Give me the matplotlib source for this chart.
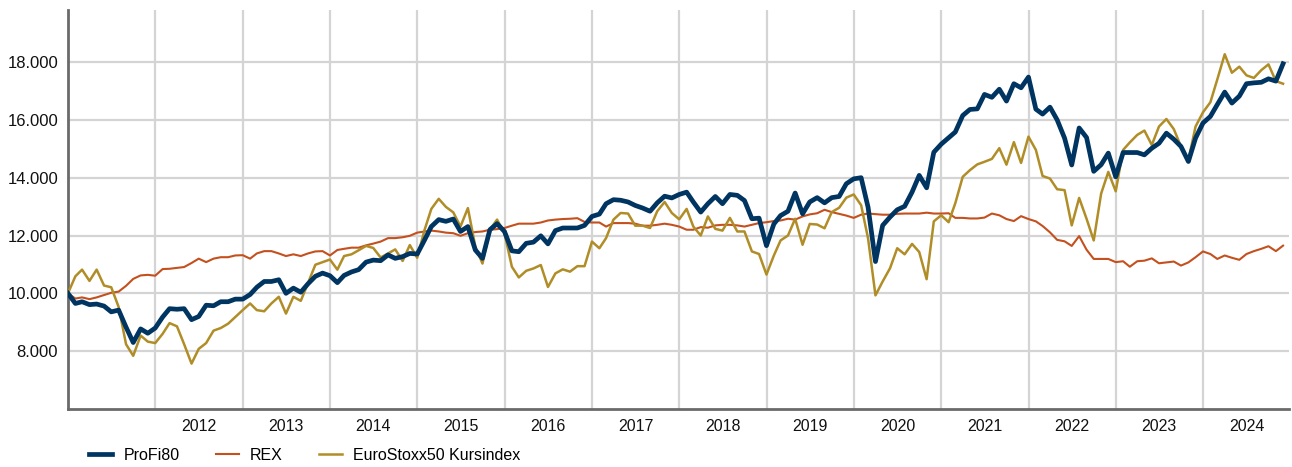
import matplotlib
matplotlib.use("Agg")
import matplotlib.pyplot as plt
import matplotlib.ticker as mticker
import pandas as pd

plt.rcParams['font.family'] = ['Liberation Sans', 'DejaVu Sans']

# Monatsendwerte, Start Ende Dez 2010 = 10.000
datum = pd.date_range('2010-12-31', periods=168, freq='ME')

profi80 = [
    10000, 9650, 9710, 9610, 9630, 9560, 9360, 9420, 8830, 8300, 8770, 8620,
    8800, 9180, 9470, 9450, 9470, 9090, 9200, 9590, 9570, 9710, 9710, 9800,
    9800, 9960, 10210, 10410, 10410, 10470, 10000, 10180, 10040, 10330, 10590, 10700,
    10610, 10370, 10620, 10740, 10820, 11080, 11150, 11130, 11330, 11210, 11270, 11380,
    11360, 11850, 12310, 12550, 12490, 12570, 12140, 12310, 11500, 11210, 12200, 12410,
    12140, 11470, 11440, 11730, 11770, 11990, 11710, 12170, 12260, 12260, 12260, 12350,
    12660, 12740, 13100, 13240, 13220, 13160, 13040, 12950, 12840, 13130, 13360, 13300,
    13420, 13500, 13160, 12810, 13100, 13350, 13100, 13420, 13390, 13210, 12580, 12600,
    11650, 12400, 12690, 12840, 13470, 12750, 13160, 13310, 13130, 13310, 13350, 13790,
    13960, 14000, 12980, 11100, 12350, 12640, 12890, 13010, 13500, 14080, 13650, 14880,
    15160, 15380, 15580, 16150, 16360, 16380, 16880, 16780, 17060, 16650, 17250, 17110,
    17480, 16370, 16200, 16440, 16000, 15370, 14440, 15720, 15390, 14220, 14450, 14850,
    14030, 14870, 14870, 14870, 14790, 15020, 15190, 15540, 15330, 15080, 14560, 15370,
    15890, 16120, 16530, 16960, 16580, 16820, 17250, 17280, 17300, 17420, 17340, 17940,
]

rex = [
    10000, 9820, 9860, 9800, 9860, 9940, 10020, 10060, 10260, 10500, 10620, 10640,
    10610, 10840, 10850, 10880, 10910, 11050, 11200, 11080, 11200, 11250, 11250, 11310,
    11320, 11200, 11380, 11460, 11460, 11380, 11290, 11350, 11290, 11380, 11450, 11460,
    11310, 11500, 11540, 11580, 11580, 11660, 11720, 11790, 11910, 11910, 11940, 11990,
    12100, 12140, 12170, 12140, 12100, 12080, 11990, 12080, 12120, 12140, 12200, 12220,
    12260, 12340, 12410, 12410, 12410, 12450, 12520, 12550, 12570, 12580, 12600, 12470,
    12450, 12450, 12310, 12430, 12430, 12430, 12410, 12340, 12340, 12370, 12410, 12370,
    12310, 12200, 12200, 12290, 12270, 12350, 12370, 12370, 12350, 12310, 12370, 12430,
    12460, 12500, 12520, 12580, 12550, 12660, 12730, 12770, 12890, 12810, 12750, 12690,
    12610, 12720, 12760, 12740, 12720, 12720, 12750, 12760, 12760, 12760, 12790, 12760,
    12760, 12770, 12610, 12610, 12590, 12590, 12620, 12760, 12700, 12570, 12500, 12670,
    12570, 12490, 12330, 12110, 11850, 11800, 11640, 11980, 11510, 11190, 11190, 11190,
    11080, 11110, 10920, 11110, 11130, 11210, 11040, 11070, 11100, 10960, 11070, 11250,
    11450, 11360, 11190, 11310, 11230, 11160, 11360, 11460, 11540, 11630, 11460, 11650,
]

eurostoxx = [
    10000, 10590, 10820, 10430, 10820, 10270, 10210, 9530, 8240, 7840, 8540, 8330,
    8280, 8600, 8970, 8860, 8240, 7570, 8080, 8280, 8710, 8800, 8950, 9180,
    9420, 9650, 9420, 9380, 9650, 9880, 9300, 9880, 9740, 10350, 10990, 11080,
    11170, 10820, 11290, 11350, 11490, 11640, 11570, 11240, 11380, 11520, 11120, 11670,
    11230, 12200, 12920, 13270, 12990, 12800, 12310, 12950, 11620, 11030, 12200, 12550,
    12080, 10920, 10550, 10780, 10860, 10980, 10220, 10690, 10830, 10750, 10940, 10940,
    11790, 11560, 11910, 12550, 12780, 12760, 12340, 12340, 12260, 12840, 13160, 12780,
    12560, 12920, 12310, 12000, 12660, 12230, 12170, 12610, 12140, 12140, 11450, 11360,
    10650, 11310, 11830, 12000, 12580, 11680, 12400, 12380, 12250, 12810, 12960, 13310,
    13420, 13050, 11900, 9930, 10410, 10870, 11560, 11350, 11710, 11430, 10490, 12490,
    12700, 12460, 13120, 14030, 14260, 14460, 14550, 14650, 15020, 14450, 15230, 14510,
    15420, 14960, 14060, 13970, 13600, 13570, 12350, 13300, 12580, 11830, 13450, 14200,
    13530, 14960, 15220, 15480, 15630, 15130, 15770, 16030, 15680, 15080, 14610, 15770,
    16260, 16610, 17400, 18270, 17630, 17840, 17540, 17450, 17720, 17920, 17340, 17250,
]

jahre = list(range(2012, 2025))
y_ticks = [8000, 10000, 12000, 14000, 16000, 18000]

fig = plt.figure(figsize=(12.92, 4.67), dpi=100)
ax = fig.add_axes([0.0526, 0.1242, 0.9451, 0.8544])

grau = '#d4d4d4'
ax.plot(datum, profi80, color='#003461', lw=3.4, label='ProFi80', zorder=5)
ax.plot(datum, rex, color='#c4501e', lw=1.5, label='REX', zorder=3)
ax.plot(datum, eurostoxx, color='#b08d27', lw=1.8, label='EuroStoxx50 Kursindex', zorder=4)

ax.set_xlim(pd.Timestamp('2010-12-31'), pd.Timestamp('2024-12-25'))
ax.set_ylim(6000, 19800)

# Jahresgrenzen als Gitterlinien, Jahreszahlen in der Mitte
ax.set_xticks([pd.Timestamp(f'{j}-01-01') for j in jahre])
ax.set_xticks([pd.Timestamp(f'{j}-07-01') for j in jahre], minor=True)
ax.set_xticklabels([], minor=False)
ax.set_xticklabels([str(j) for j in jahre], minor=True)
ax.tick_params(axis='x', which='both', length=0, labelsize=11.5, pad=7, colors='#111111')
ax.grid(axis='x', which='major', color=grau, lw=1.6)

ax.set_yticks(y_ticks)
ax.yaxis.set_major_formatter(mticker.FuncFormatter(lambda v, p: f'{int(v):,}'.replace(',', '.')))
ax.tick_params(axis='y', length=0, labelsize=12, pad=7, colors='#111111')
ax.grid(axis='y', color=grau, lw=1.6)
ax.set_axisbelow(True)

for s in ['top', 'right']:
    ax.spines[s].set_visible(False)
for s in ['left', 'bottom']:
    ax.spines[s].set_color('#6a6a6a')
    ax.spines[s].set_linewidth(2)

leg = fig.legend(loc='lower left', bbox_to_anchor=(0.058, -0.022), ncol=3, frameon=False,
                 fontsize=11.5, handlelength=1.45, handletextpad=0.7, columnspacing=2.25)

fig.savefig('out.png', dpi=100)
